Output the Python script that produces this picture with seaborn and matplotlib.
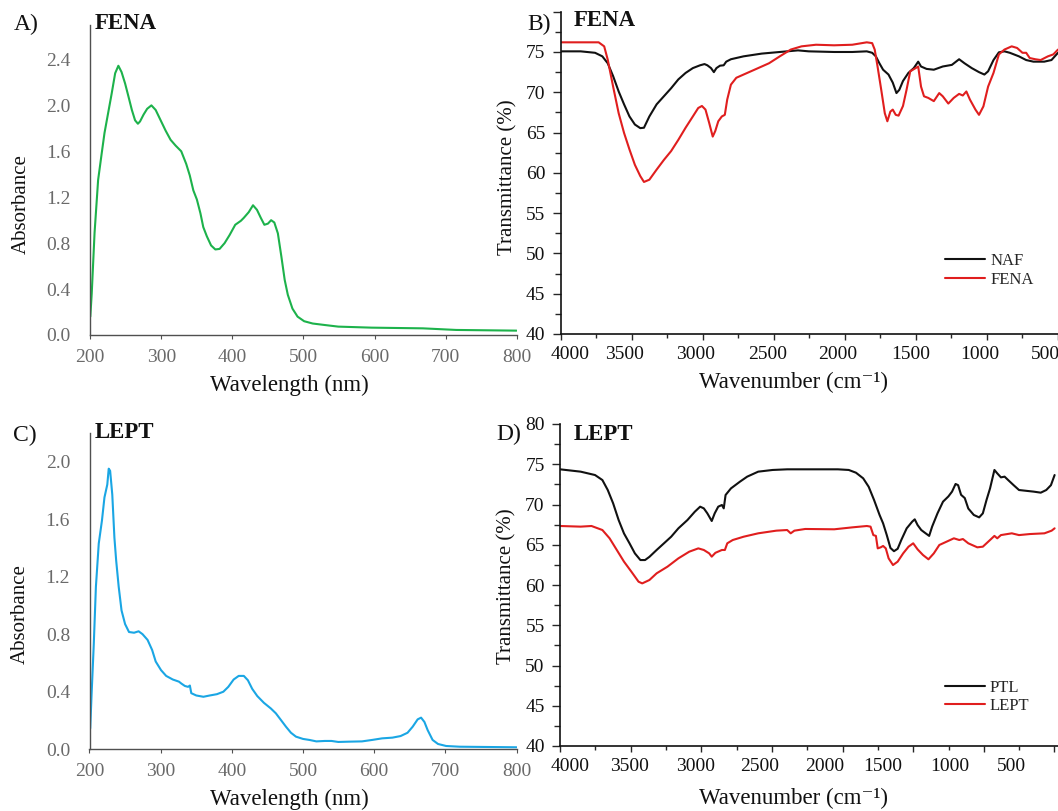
import numpy as np
import pandas as pd
import matplotlib
matplotlib.use("Agg")
import matplotlib.pyplot as plt
import matplotlib.transforms as mtransforms
import seaborn as sns

# ---------------- Data ----------------
# A) FENA UV-Vis
fena_wl = [200, 202, 206, 211, 216, 220, 225, 230, 235, 239.5, 244, 249, 254, 258.5, 263, 267,
           270, 275, 280, 286, 292, 299, 306, 313, 320, 328, 335, 340, 345, 350, 355, 359, 364,
           370, 376, 382, 389, 396, 404, 412, 416, 423, 429, 434.6, 440, 445, 450, 454.5, 459,
           464, 469, 473.6, 478, 484.5, 491.7, 501, 513, 530, 549, 596, 668, 715, 800]
fena_abs = [0.16, 0.36, 0.89, 1.35, 1.58, 1.76, 1.93, 2.10, 2.28, 2.345, 2.29, 2.19, 2.07, 1.96,
            1.87, 1.84, 1.86, 1.92, 1.97, 2.00, 1.96, 1.87, 1.78, 1.70, 1.65, 1.60, 1.49, 1.39,
            1.26, 1.18, 1.06, 0.94, 0.86, 0.78, 0.745, 0.75, 0.80, 0.87, 0.96, 0.995, 1.02, 1.07,
            1.13, 1.09, 1.02, 0.96, 0.97, 1.00, 0.98, 0.885, 0.68, 0.48, 0.35, 0.23, 0.16, 0.12,
            0.10, 0.087, 0.073, 0.064, 0.058, 0.044, 0.038]

# C) LEPT UV-Vis
lept_wl = [201, 203, 206, 209, 213, 217.5, 221, 225, 227, 229, 232, 235, 237.5, 241, 245, 250,
           255.5, 262.6, 269, 274.5, 281.6, 288, 293, 300.5, 307.7, 317, 325.7, 329, 334, 338.5,
           341, 343, 350, 360, 369, 379, 388, 395, 402.5, 409.6, 416.8, 422.5, 428.6, 435.7, 445,
           454.7, 461.8, 469, 476, 483, 490, 500, 509, 518.7, 530.6, 540, 549.5, 563.8, 582.8,
           597, 611, 625.5, 637, 646.8, 654, 661, 665.8, 670.5, 675, 682, 689.6, 701, 720, 800]
lept_abs = [0.145, 0.39, 0.73, 1.13, 1.43, 1.59, 1.75, 1.84, 1.95, 1.935, 1.77, 1.47, 1.31, 1.13,
            0.965, 0.87, 0.815, 0.81, 0.82, 0.80, 0.76, 0.69, 0.61, 0.55, 0.51, 0.485, 0.47,
            0.457, 0.44, 0.434, 0.443, 0.39, 0.374, 0.365, 0.374, 0.383, 0.40, 0.434, 0.485,
            0.51, 0.51, 0.48, 0.42, 0.37, 0.323, 0.284, 0.25, 0.203, 0.157, 0.115, 0.088, 0.072,
            0.065, 0.055, 0.058, 0.058, 0.051, 0.053, 0.055, 0.065, 0.076, 0.081, 0.092, 0.115,
            0.157, 0.208, 0.22, 0.19, 0.134, 0.065, 0.037, 0.023, 0.018, 0.014]

# B) FTIR NAF / FENA
naf_wn = [3995, 3860, 3758, 3707, 3669, 3631, 3592, 3554, 3516, 3478, 3440, 3414, 3376, 3325,
          3274, 3223, 3172, 3121, 3070, 3019, 2988, 2968, 2942, 2922, 2904, 2879, 2853, 2835,
          2802, 2713, 2585, 2458, 2330, 2254, 2076, 1948, 1846, 1808, 1782, 1757, 1731, 1693,
          1663, 1637, 1617, 1591, 1553, 1515, 1484, 1464, 1425, 1374, 1311, 1247, 1196, 1158,
          1107, 1056, 1018, 992, 954, 916, 877, 839, 775, 724, 673, 597, 546, 500]
naf_t = [75.08, 75.08, 74.9, 74.46, 73.6, 72.0, 70.1, 68.5, 67.0, 66.0, 65.55, 65.6, 67.0, 68.5,
         69.5, 70.5, 71.6, 72.4, 73.0, 73.35, 73.5, 73.35, 73.0, 72.5, 73.0, 73.3, 73.35, 73.8,
         74.1, 74.46, 74.8, 75.0, 75.2, 75.08, 75.0, 75.0, 75.08, 74.9, 74.46, 73.6, 72.8, 72.2,
         71.2, 69.9, 70.3, 71.4, 72.4, 73.0, 73.8, 73.2, 72.9, 72.8, 73.2, 73.4, 74.1, 73.6,
         73.0, 72.5, 72.2, 72.6, 74.0, 74.96, 75.08, 74.9, 74.46, 74.0, 73.8, 73.8, 74.0, 74.9]
fenair_wn = [3995, 3733, 3694, 3669, 3631, 3592, 3554, 3516, 3478, 3440, 3414, 3376, 3325, 3274,
             3223, 3172, 3121, 3070, 3032, 3006, 2981, 2955, 2930, 2912, 2891, 2866, 2845, 2828,
             2802, 2764, 2713, 2636, 2534, 2458, 2381, 2305, 2203, 2076, 1948, 1846, 1808, 1790,
             1770, 1744, 1719, 1701, 1680, 1663, 1642, 1622, 1591, 1566, 1540, 1502, 1484, 1464,
             1443, 1413, 1374, 1336, 1311, 1272, 1234, 1196, 1170, 1145, 1120, 1081, 1056, 1025,
             992, 954, 916, 877, 826, 788, 750, 724, 699, 660, 622, 571, 533, 500]
fenair_t = [76.2, 76.2, 75.7, 74.05, 70.7, 67.4, 64.95, 62.9, 61.0, 59.6, 58.87, 59.15, 60.4,
            61.6, 62.7, 64.1, 65.6, 67.0, 68.05, 68.3, 67.85, 66.2, 64.5, 65.2, 66.4, 67.0, 67.2,
            69.1, 70.95, 71.8, 72.2, 72.8, 73.6, 74.46, 75.3, 75.7, 75.9, 75.83, 75.9, 76.2, 76.1,
            75.3, 73.2, 70.3, 67.4, 66.4, 67.6, 67.85, 67.2, 67.1, 68.3, 70.3, 72.6, 73.0, 73.2,
            70.7, 69.5, 69.3, 68.9, 69.9, 69.5, 68.6, 69.3, 69.8, 69.6, 70.1, 69.1, 67.85, 67.2,
            68.25, 70.7, 72.4, 74.7, 75.3, 75.7, 75.5, 74.9, 74.9, 74.25, 74.1, 74.0, 74.46, 74.7,
            75.3]

# D) FTIR PTL / LEPT
ptl_wn = [4000, 3854, 3752, 3700, 3662, 3624, 3585, 3547, 3508, 3470, 3431, 3398, 3367, 3316,
          3264, 3213, 3162, 3098, 3046, 3008, 2982, 2957, 2926, 2905, 2880, 2854, 2841, 2828,
          2790, 2726, 2675, 2597, 2495, 2392, 2187, 2033, 1956, 1905, 1854, 1815, 1777, 1738,
          1713, 1687, 1661, 1636, 1610, 1584, 1546, 1507, 1489, 1469, 1443, 1418, 1387, 1366,
          1328, 1289, 1251, 1225, 1200, 1182, 1161, 1135, 1110, 1071, 1033, 1007, 981, 956, 925,
          905, 879, 853, 828, 789, 751, 700, 648, 597, 558, 525, 499]
ptl_t = [74.37, 74.08, 73.66, 73.04, 71.8, 70.15, 68.07, 66.4, 65.18, 63.93, 63.1, 63.1, 63.5,
         64.35, 65.18, 66.0, 67.04, 68.07, 69.1, 69.73, 69.52, 68.9, 67.95, 68.9, 69.73, 69.94,
         69.52, 71.18, 72.0, 72.84, 73.46, 74.08, 74.29, 74.37, 74.37, 74.37, 74.29, 73.95,
         73.25, 72.2, 70.56, 68.7, 67.66, 66.2, 64.6, 64.2, 64.5, 65.6, 67.04, 67.87, 68.16,
         67.45, 66.83, 66.5, 66.1, 67.25, 68.9, 70.35, 71.0, 71.6, 72.55, 72.4, 71.2, 70.8, 69.5,
         68.7, 68.4, 68.9, 70.56, 72.0, 74.29, 73.87, 73.37, 73.46, 73.04, 72.4, 71.8, 71.7, 71.6,
         71.47, 71.8, 72.4, 73.66]
leptir_wn = [4000, 3854, 3777, 3700, 3649, 3598, 3547, 3495, 3444, 3418, 3367, 3316, 3239, 3162,
             3085, 3021, 2982, 2944, 2926, 2900, 2854, 2833, 2816, 2777, 2700, 2597, 2469, 2392,
             2367, 2341, 2264, 2059, 1931, 1828, 1802, 1782, 1764, 1751, 1730, 1713, 1694, 1674,
             1643, 1610, 1571, 1533, 1500, 1469, 1431, 1392, 1354, 1315, 1264, 1212, 1174, 1148,
             1110, 1046, 1007, 956, 925, 905, 879, 802, 751, 674, 571, 520, 499]
leptir_t = [67.33, 67.25, 67.33, 66.83, 65.8, 64.35, 62.9, 61.66, 60.41, 60.2, 60.62, 61.45, 62.28,
            63.31, 64.14, 64.55, 64.35, 63.93, 63.52, 64.0, 64.35, 64.35, 65.18, 65.59, 66.0,
            66.42, 66.75, 66.83, 66.42, 66.75, 66.96, 66.92, 67.16, 67.33, 67.25, 66.2, 66.1,
            64.55, 64.68, 64.85, 64.55, 63.31, 62.48, 62.9, 63.93, 64.76, 65.18, 64.43, 63.73,
            63.19, 63.93, 64.97, 65.38, 65.8, 65.59, 65.71, 65.18, 64.68, 64.76, 65.59, 66.1, 65.8,
            66.2, 66.42, 66.2, 66.33, 66.42, 66.75, 67.04]

uv_xticks = [200, 300, 400, 500, 600, 700, 800]
fena_yticks = [0.0, 0.4, 0.8, 1.2, 1.6, 2.0, 2.4]
lept_yticks = [0.0, 0.4, 0.8, 1.2, 1.6, 2.0]
ir_xticks = [4000, 3500, 3000, 2500, 2000, 1500, 1000, 500]
irB_yticks = [40, 45, 50, 55, 60, 65, 70, 75, 80]
irB_ylabels = ["40", "45", "50", "55", "60", "65", "70", "75", ""]
irD_yticks = [40, 45, 50, 55, 60, 65, 70, 75, 80]
irD_ylabels = ["40", "45", "50", "55", "60", "65", "70", "75", "80"]

# horizontal pixel nudges of the x tick labels, as printed in the source figure
irB_label_shift = [9, -7, -7, -6, -7, -5, -7, -13]
irD_label_shift = [10, -1, -6, -12, -18, -30, -34, -43]

# ---------------- Style ----------------
sns.set_style("ticks")
plt.rcParams["font.family"] = ["Liberation Serif", "DejaVu Serif"]

GREEN = "#1db24b"
BLUE = "#1aa6e4"
RED = "#e01e1e"
BLACK = "#111111"
GRAY_TXT = "#6a6a6a"
GRAY_AX = "#505050"

W, H = 1058, 811
fig = plt.figure(figsize=(W / 100, H / 100), dpi=100)


def px_axes(l, t, r, b):
    return fig.add_axes([l / W, 1 - b / H, (r - l) / W, (b - t) / H])


axA = px_axes(90.3, 25, 516.6, 335)
axC = px_axes(89.5, 432.7, 516.6, 749.3)
axB = px_axes(560.7, 11.7, 1058, 334)
axD = px_axes(560, 424, 1058, 746)

# ---------------- UV panels ----------------
sns.lineplot(x=fena_wl, y=fena_abs, ax=axA, color=GREEN, lw=1.5)
sns.lineplot(x=lept_wl, y=lept_abs, ax=axC, color=BLUE, lw=1.5)


def style_uv(ax, ymax, yticks):
    ax.set_xlim(200, 800)
    ax.set_ylim(0, ymax)
    ax.set_xticks(uv_xticks)
    ax.set_xticklabels([str(v) for v in uv_xticks])
    ax.set_yticks(yticks)
    ax.set_yticklabels([f"{v:.1f}" for v in yticks])
    for s in ["top", "right"]:
        ax.spines[s].set_visible(False)
    for s in ["left", "bottom"]:
        ax.spines[s].set_color(GRAY_AX)
        ax.spines[s].set_linewidth(1.0)
    ax.tick_params(axis="y", length=0, pad=14, labelsize=14, labelcolor=GRAY_TXT)
    ax.tick_params(axis="x", length=3, width=0.8, color=GRAY_AX, pad=7, labelsize=14,
                   labelcolor=GRAY_TXT, direction="out")
    ax.set_xlabel("Wavelength (nm)", fontsize=16.5, color=BLACK)
    ax.set_ylabel("Absorbance", fontsize=15, color=BLACK)


style_uv(axA, 2.7, fena_yticks)
style_uv(axC, 2.2, lept_yticks)
axA.xaxis.set_label_coords(0.468, -0.128)
axA.yaxis.set_label_coords(-0.140, 0.423)
axC.xaxis.set_label_coords(0.468, -0.125)
axC.yaxis.set_label_coords(-0.140, 0.427)

# ---------------- FTIR panels ----------------
sns.lineplot(x=naf_wn, y=naf_t, ax=axB, color=BLACK, lw=1.5, label="NAF")
sns.lineplot(x=fenair_wn, y=fenair_t, ax=axB, color=RED, lw=1.5, label="FENA")
sns.lineplot(x=ptl_wn, y=ptl_t, ax=axD, color=BLACK, lw=1.5, label="PTL")
sns.lineplot(x=leptir_wn, y=leptir_t, ax=axD, color=RED, lw=1.5, label="LEPT")


def style_ir(ax, xright, yticks, ylabels, shifts):
    ax.set_xlim(4000, xright)
    ax.set_ylim(40, 80)
    ax.set_xticks(ir_xticks)
    ax.set_xticklabels([str(v) for v in ir_xticks])
    ax.set_xticks(np.arange(3750, 400, -500), minor=True)
    ax.set_yticks(yticks)
    ax.set_yticklabels(ylabels)
    ax.set_yticks(np.arange(42.5, 80, 5), minor=True)
    for s in ["top", "right"]:
        ax.spines[s].set_visible(False)
    for s in ["left", "bottom"]:
        ax.spines[s].set_color(BLACK)
        ax.spines[s].set_linewidth(1.2)
    ax.tick_params(axis="y", which="major", length=6, width=1.0, pad=5, labelsize=14,
                   labelcolor=BLACK, direction="out")
    ax.tick_params(axis="y", which="minor", length=4, width=1.0, direction="out")
    ax.tick_params(axis="x", which="major", length=4.5, width=1.0, pad=4, labelsize=14,
                   labelcolor=BLACK, direction="out")
    ax.tick_params(axis="x", which="minor", length=3, width=1.0, direction="out")
    ax.set_xlabel("Wavenumber (cm\u207b\u00b9)", fontsize=16.5, color=BLACK)
    ax.set_ylabel("Transmittance (%)", fontsize=15, color=BLACK)
    for lab, dx in zip(ax.get_xticklabels(), shifts):
        lab.set_transform(lab.get_transform() +
                          mtransforms.ScaledTranslation(dx / 100, 0, fig.dpi_scale_trans))


style_ir(axB, 500, irB_yticks, irB_ylabels, irB_label_shift)
style_ir(axD, 475, irD_yticks, irD_ylabels, irD_label_shift)
axB.xaxis.set_label_coords(0.469, -0.118)
axB.yaxis.set_label_coords(-0.086, 0.486)
axD.xaxis.set_label_coords(0.468, -0.130)
axD.yaxis.set_label_coords(-0.088, 0.495)

for ax, anchor in [(axB, (0.773, 0.251)), (axD, (0.773, 0.206))]:
    ax.legend(loc="upper left", bbox_to_anchor=anchor, frameon=False, fontsize=12,
              handlelength=2.4, handletextpad=0.3, labelspacing=0.15, borderpad=0,
              borderaxespad=0)


# ---------------- Panel letters & titles ----------------
def ftext(x, y, s, **kw):
    fig.text(x / W, 1 - y / H, s, va="center", ha="left", color=BLACK, **kw)


ftext(13.5, 24.5, "A)", fontsize=17)
ftext(94.5, 23.5, "FENA", fontsize=16.5, fontweight="bold")
ftext(527, 24.5, "B)", fontsize=17)
ftext(574, 20.5, "FENA", fontsize=16.5, fontweight="bold")
ftext(13.5, 435.5, "C)", fontsize=17)
ftext(94.5, 433, "LEPT", fontsize=16.5, fontweight="bold")
ftext(496, 434.5, "D)", fontsize=17)
ftext(574, 434.5, "LEPT", fontsize=16.5, fontweight="bold")

fig.savefig("out.png", dpi=100)
